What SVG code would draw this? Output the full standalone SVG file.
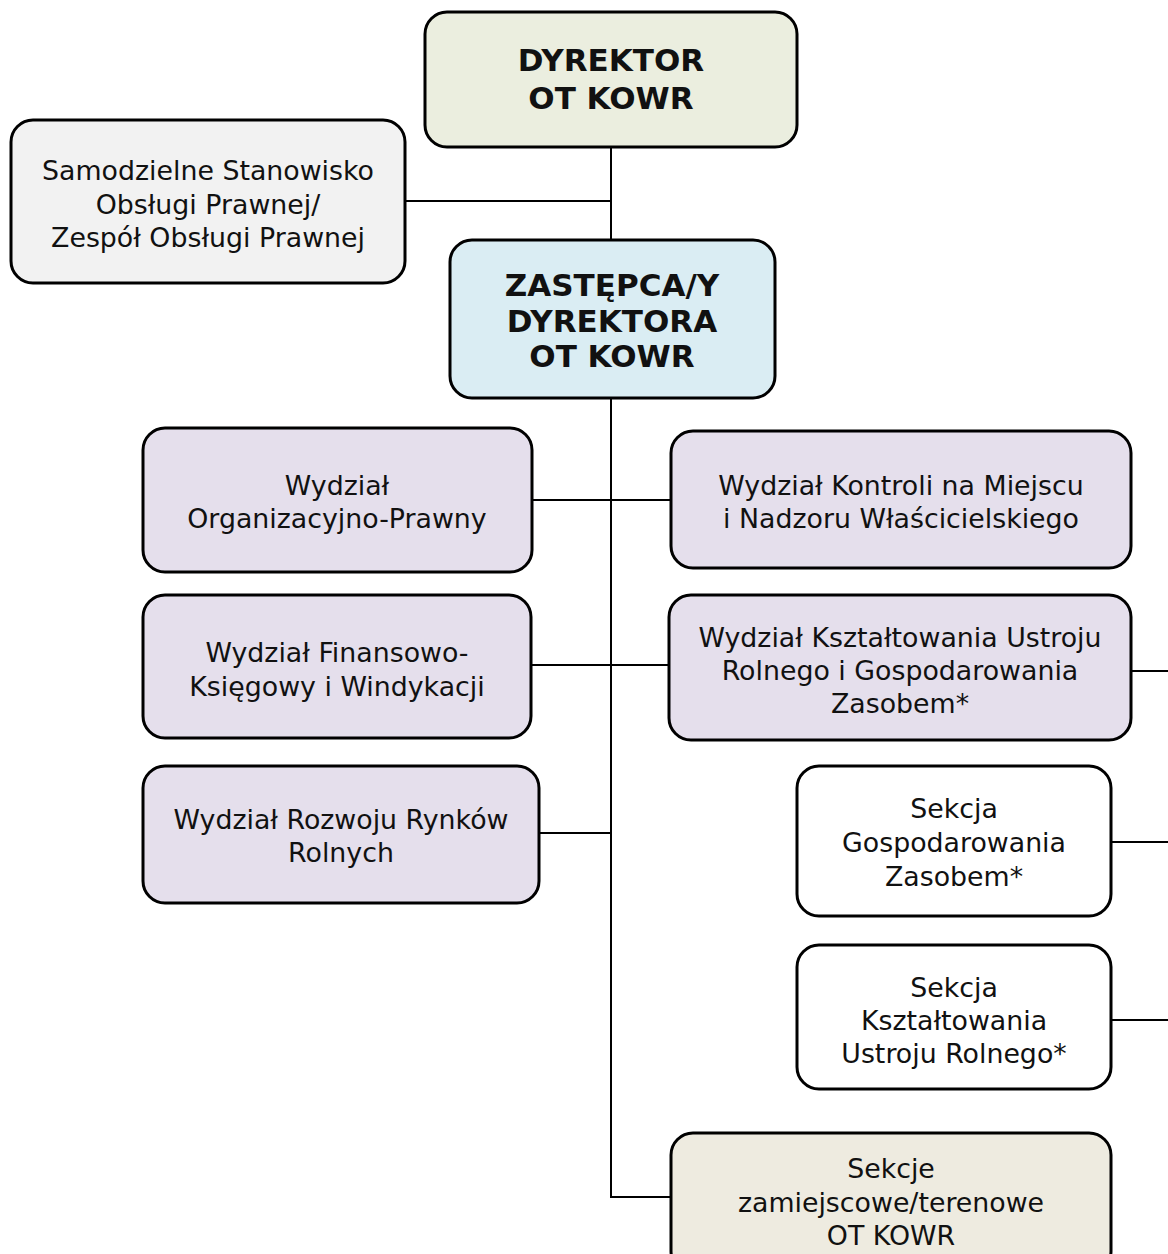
<svg xmlns="http://www.w3.org/2000/svg" width="1168" height="1254" viewBox="0 0 1168 1254">
<style>
.box{stroke:#000;stroke-width:3}
.t{font-family:"DejaVu Sans","Liberation Sans",sans-serif;font-size:26.8px;fill:#111;text-anchor:middle}
.b{font-family:"DejaVu Sans","Liberation Sans",sans-serif;font-size:31px;font-weight:bold;fill:#111;text-anchor:middle}
.c{stroke:#000;stroke-width:2;fill:none}
</style>
<rect width="1168" height="1254" fill="#fff"/>
<g id="connectors">
<line class="c" x1="611" y1="147" x2="611" y2="240"/>
<line class="c" x1="405" y1="201" x2="611" y2="201"/>
<polyline class="c" points="611,398 611,1197 671,1197"/>
<line class="c" x1="532" y1="500" x2="671" y2="500"/>
<line class="c" x1="531" y1="665" x2="669" y2="665"/>
<line class="c" x1="539" y1="833" x2="611" y2="833"/>
<line class="c" x1="1131" y1="671" x2="1168" y2="671"/>
<line class="c" x1="1111" y1="842" x2="1168" y2="842"/>
<line class="c" x1="1111" y1="1020" x2="1168" y2="1020"/>
</g>
<g id="dyrektor">
<rect class="box" x="425" y="12" width="372" height="135" rx="22" fill="#ebeedf"/>
<text class="b" x="611" y="71">DYREKTOR</text>
<text class="b" x="611" y="109">OT KOWR</text>
</g>
<g id="prawna">
<rect class="box" x="11" y="120" width="394" height="163" rx="22" fill="#f2f2f2"/>
<text class="t" x="208" y="180">Samodzielne Stanowisko</text>
<text class="t" x="208" y="214">Obsługi Prawnej/</text>
<text class="t" x="208" y="247">Zespół Obsługi Prawnej</text>
</g>
<g id="zastepca">
<rect class="box" x="450" y="240" width="325" height="158" rx="22" fill="#daedf3"/>
<text class="b" x="612" y="296">ZASTĘPCA/Y</text>
<text class="b" x="612" y="332">DYREKTORA</text>
<text class="b" x="612" y="367">OT KOWR</text>
</g>
<g id="org-prawny">
<rect class="box" x="143" y="428" width="389" height="144" rx="22" fill="#e5dfec"/>
<text class="t" x="337" y="495">Wydział</text>
<text class="t" x="337" y="528">Organizacyjno-Prawny</text>
</g>
<g id="kontroli">
<rect class="box" x="671" y="431" width="460" height="137" rx="22" fill="#e5dfec"/>
<text class="t" x="901" y="495">Wydział Kontroli na Miejscu</text>
<text class="t" x="901" y="528">i Nadzoru Właścicielskiego</text>
</g>
<g id="finansowy">
<rect class="box" x="143" y="595" width="388" height="143" rx="22" fill="#e5dfec"/>
<text class="t" x="337" y="662">Wydział Finansowo-</text>
<text class="t" x="337" y="696">Księgowy i Windykacji</text>
</g>
<g id="ksztaltowania">
<rect class="box" x="669" y="595" width="462" height="145" rx="22" fill="#e5dfec"/>
<text class="t" x="900" y="647">Wydział Kształtowania Ustroju</text>
<text class="t" x="900" y="680">Rolnego i Gospodarowania</text>
<text class="t" x="900" y="713">Zasobem*</text>
</g>
<g id="rozwoju">
<rect class="box" x="143" y="766" width="396" height="137" rx="22" fill="#e5dfec"/>
<text class="t" x="341" y="829">Wydział Rozwoju Rynków</text>
<text class="t" x="341" y="862">Rolnych</text>
</g>
<g id="sekcja-gosp">
<rect class="box" x="797" y="766" width="314" height="150" rx="22" fill="#fff"/>
<text class="t" x="954" y="818">Sekcja</text>
<text class="t" x="954" y="852">Gospodarowania</text>
<text class="t" x="954" y="886">Zasobem*</text>
</g>
<g id="sekcja-kszt">
<rect class="box" x="797" y="945" width="314" height="144" rx="22" fill="#fff"/>
<text class="t" x="954" y="997">Sekcja</text>
<text class="t" x="954" y="1030">Kształtowania</text>
<text class="t" x="954" y="1063">Ustroju Rolnego*</text>
</g>
<g id="zamiejscowe">
<rect class="box" x="671" y="1133" width="440" height="140" rx="22" fill="#eeebe0"/>
<text class="t" x="891" y="1178">Sekcje</text>
<text class="t" x="891" y="1212">zamiejscowe/terenowe</text>
<text class="t" x="891" y="1245">OT KOWR</text>
</g>
</svg>
